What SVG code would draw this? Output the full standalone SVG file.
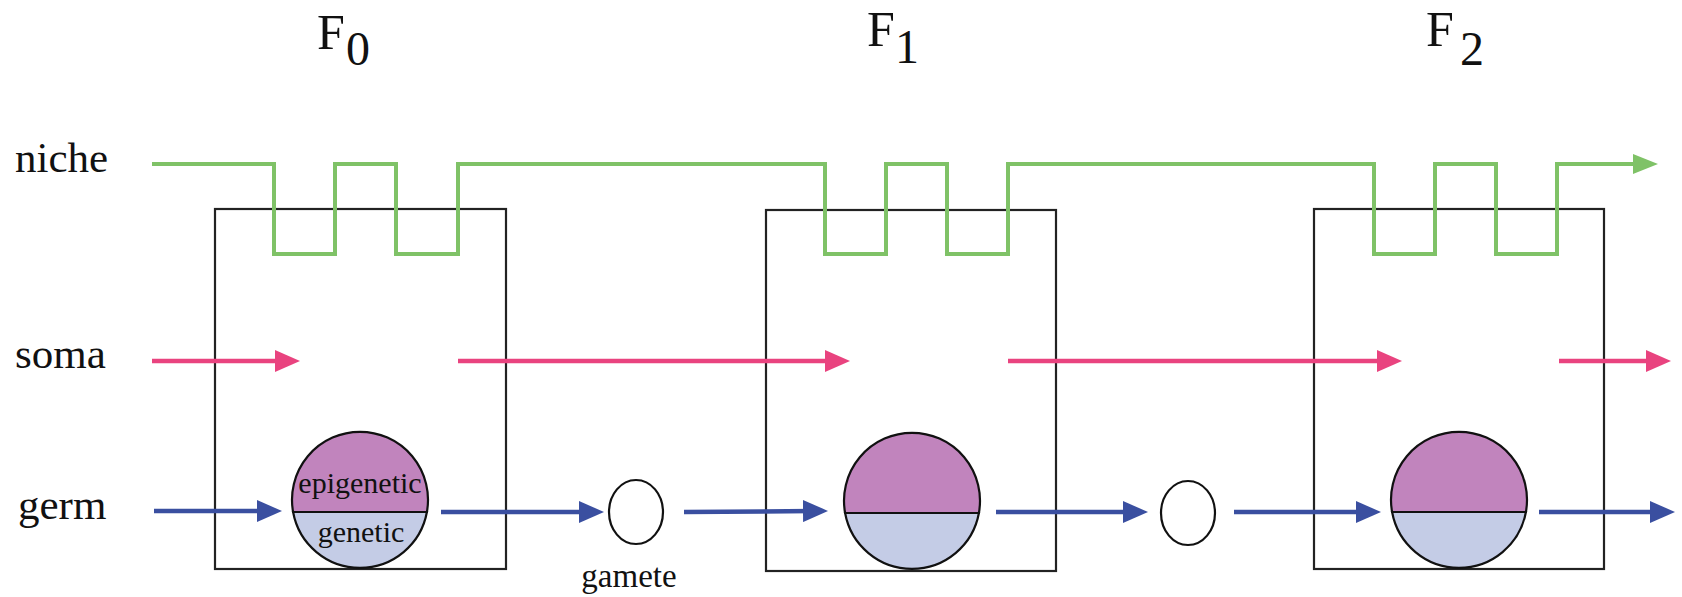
<svg xmlns="http://www.w3.org/2000/svg" width="1682" height="597" viewBox="0 0 1682 597">
<style>
.t{font-family:"Liberation Serif","Times New Roman",serif;fill:#111}
.box{fill:none;stroke:#222;stroke-width:2.2}
.epi{fill:#c184bd;stroke:#111;stroke-width:2.2}
.gen{fill:#c4cce6;stroke:#111;stroke-width:2.2}
.gam{fill:#fff;stroke:#111;stroke-width:2.2}
.niche{fill:none;stroke:#7fc267;stroke-width:4}
.soma{fill:none;stroke:#e9437f;stroke-width:4.5}
.germ{fill:none;stroke:#3a4fa0;stroke-width:4.5}
</style>
<defs>
<marker id="ahG" markerUnits="userSpaceOnUse" viewBox="0 0 25 22" refX="10" refY="11" markerWidth="25" markerHeight="22" orient="auto"><path d="M0,1 L25,11 L0,21 Z" fill="#7fc267"/></marker>
<marker id="ahP" markerUnits="userSpaceOnUse" viewBox="0 0 25 22" refX="10" refY="11" markerWidth="25" markerHeight="22" orient="auto"><path d="M0,0 L25,11 L0,22 Z" fill="#e9437f"/></marker>
<marker id="ahB" markerUnits="userSpaceOnUse" viewBox="0 0 25 22" refX="10" refY="11" markerWidth="25" markerHeight="22" orient="auto"><path d="M0,0 L25,11 L0,22 Z" fill="#3a4fa0"/></marker>
</defs>

<g id="labels">
<text class="t" x="15" y="172" font-size="43">niche</text>
<text class="t" x="15" y="368" font-size="43">soma</text>
<text class="t" x="18" y="519" font-size="43">germ</text>
<text class="t" x="317" y="49" font-size="50">F</text><text class="t" x="346" y="65" font-size="48">0</text>
<text class="t" x="867" y="46" font-size="50">F</text><text class="t" x="895" y="63" font-size="48">1</text>
<text class="t" x="1426" y="46" font-size="50">F</text><text class="t" x="1460" y="65" font-size="48">2</text>
</g>

<g id="gen-F0"><rect class="box" x="215" y="209" width="291" height="360"/></g>
<g id="gen-F1"><rect class="box" x="766" y="210" width="290" height="361"/></g>
<g id="gen-F2"><rect class="box" x="1314" y="209" width="290" height="360"/></g>

<g id="connectors">
<path class="niche" marker-end="url(#ahG)" d="M152,164 H274 V254 H335 V164 H396 V254 H458 V164 H825 V254 H886 V164 H947 V254 H1008 V164 H1374 V254 H1435 V164 H1496 V254 H1557 V164 H1643"/>
<path class="soma" marker-end="url(#ahP)" d="M152,361 H285"/>
<path class="soma" marker-end="url(#ahP)" d="M458,361 H835"/>
<path class="soma" marker-end="url(#ahP)" d="M1008,361 H1387"/>
<path class="soma" marker-end="url(#ahP)" d="M1559,361 H1656"/>
<path class="germ" marker-end="url(#ahB)" d="M154,511 H267"/>
<path class="germ" marker-end="url(#ahB)" d="M441,512 H589"/>
<path class="germ" marker-end="url(#ahB)" d="M684,512 L813,511"/>
<path class="germ" marker-end="url(#ahB)" d="M996,512 H1133"/>
<path class="germ" marker-end="url(#ahB)" d="M1234,512 H1366"/>
<path class="germ" marker-end="url(#ahB)" d="M1539,512 H1660"/>
</g>

<g id="cell-F0">
<path class="epi" d="M293.1,512 A68,68 0 1 1 426.9,512 Z"/>
<path class="gen" d="M293.1,512 A68,68 0 0 0 426.9,512 Z"/>
<text class="t" x="360" y="493" font-size="30" text-anchor="middle">epigenetic</text>
<text class="t" x="361" y="542" font-size="30" text-anchor="middle">genetic</text>
</g>
<g id="cell-F1">
<path class="epi" d="M845.1,513 A68,68 0 1 1 978.9,513 Z"/>
<path class="gen" d="M845.1,513 A68,68 0 0 0 978.9,513 Z"/>
</g>
<g id="cell-F2">
<path class="epi" d="M1392.1,512 A68,68 0 1 1 1525.9,512 Z"/>
<path class="gen" d="M1392.1,512 A68,68 0 0 0 1525.9,512 Z"/>
</g>

<g id="gamete-1">
<ellipse class="gam" cx="636" cy="512" rx="27" ry="32"/>
<text class="t" x="629" y="587" font-size="33" text-anchor="middle">gamete</text>
</g>
<g id="gamete-2">
<ellipse class="gam" cx="1188" cy="513" rx="27" ry="32"/>
</g>
</svg>
